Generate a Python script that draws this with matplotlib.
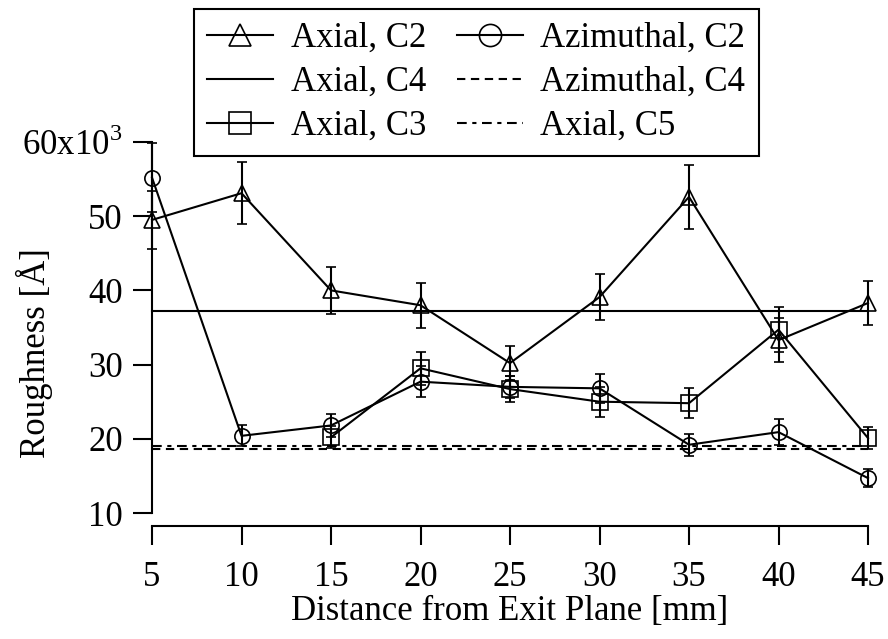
import matplotlib
matplotlib.use('Agg')
import matplotlib.pyplot as plt
from matplotlib.lines import Line2D

plt.rcParams['font.family'] = ['Liberation Serif', 'DejaVu Serif']
plt.rcParams['mathtext.fontset'] = 'custom'
plt.rcParams['mathtext.rm'] = 'Liberation Serif'
plt.rcParams['lines.scale_dashes'] = False

# ---- data ----
distance = [5, 10, 15, 20, 25, 30, 35, 40, 45]
axial_c2 = [49.5, 53.1, 40.0, 38.0, 30.2, 39.1, 52.6, 33.3, 38.3]
axial_c2_err = [3.9, 4.2, 3.2, 3.0, 2.3, 3.1, 4.3, 3.0, 3.0]
azim_c2 = [55.2, 20.4, 21.8, 27.7, 27.0, 26.8, 19.2, 20.9, 14.7]
azim_c2_err = [4.7, 1.4, 1.6, 2.1, 1.5, 2.0, 1.5, 1.8, 1.2]
distance_c3 = [15, 20, 25, 30, 35, 40, 45]
axial_c3 = [20.2, 29.5, 26.7, 25.0, 24.8, 34.7, 20.1]
axial_c3_err = [1.5, 2.2, 1.8, 2.0, 2.0, 3.0, 1.5]
ref_x = [5, 45]
axial_c4 = [37.2, 37.2]
azim_c4 = [18.6, 18.6]
axial_c5 = [19.0, 19.0]

x_ticks = [5, 10, 15, 20, 25, 30, 35, 40, 45]
y_ticks = [10, 20, 30, 40, 50, 60]
y_tick_labels = ['10', '20', '30', '40', '50', '60x10$^{3}$']

FS = 25
LW = 1.5
MS = 11

fig = plt.figure(figsize=(8.88, 6.39), dpi=100)
ax = fig.add_axes([152/888, 1-513/639, 716/888, 371/639])

def eb(x, y, e, marker):
    c = ax.errorbar(x, y, yerr=e, fmt='-', color='k', marker=marker, ms=MS,
                    mfc='none', mec='k', mew=1.2, lw=LW, elinewidth=LW,
                    capsize=3.8, capthick=LW)
    for art in c.get_children():
        art.set_clip_on(False)

eb(distance, axial_c2, axial_c2_err, '^')
eb(distance, azim_c2, azim_c2_err, 'o')
eb(distance_c3, axial_c3, axial_c3_err, 's')
ax.plot(ref_x, axial_c4, color='k', lw=LW, clip_on=False)
ax.plot(ref_x, azim_c4, color='k', lw=LW, ls=(0, (6, 4)), clip_on=False)
ax.plot(ref_x, axial_c5, color='k', lw=LW, ls=(0, (7, 4, 3, 4)), clip_on=False)

ax.set_xlim(5, 45)
ax.set_ylim(10, 60)
ax.set_xticks(x_ticks)
ax.set_yticks(y_ticks)
ax.set_yticklabels(y_tick_labels)
for s in ['top', 'right']:
    ax.spines[s].set_visible(False)
for s in ['left', 'bottom']:
    ax.spines[s].set_linewidth(LW)
ax.spines['bottom'].set_position(('outward', 9.5))
ax.tick_params(direction='out', length=14, width=LW, labelsize=FS)
ax.tick_params(axis='x', pad=11)
ax.tick_params(axis='y', pad=7)
ax.patch.set_visible(False)

ax.set_ylabel('Roughness [Å]', fontsize=FS)
ax.yaxis.set_label_coords(-0.138, 0.43)
ax.set_xlabel('Distance from Exit Plane [mm]', fontsize=FS)
ax.xaxis.set_label_coords(0.5, -0.222)

handles = [
    Line2D([], [], color='k', lw=LW, marker='^', ms=MS, mfc='none', mew=1.2),
    Line2D([], [], color='k', lw=LW),
    Line2D([], [], color='k', lw=LW, marker='s', ms=MS, mfc='none', mew=1.2),
    Line2D([], [], color='k', lw=LW, marker='o', ms=MS, mfc='none', mew=1.2),
    Line2D([], [], color='k', lw=LW, ls=(0, (6, 4))),
    Line2D([], [], color='k', lw=LW, ls=(0, (7, 4, 3, 4))),
]
labels = ['Axial, C2', 'Axial, C4', 'Axial, C3',
          'Azimuthal, C2', 'Azimuthal, C4', 'Axial, C5']
leg = fig.legend(handles, labels, ncol=2, loc='upper left',
                 bbox_to_anchor=(194/888, 1-9/639), bbox_transform=fig.transFigure,
                 borderaxespad=0, fancybox=False, edgecolor='k', framealpha=1,
                 fontsize=FS, handlelength=1.9, handletextpad=0.5,
                 columnspacing=0.9, labelspacing=0.31, borderpad=0.38,
                 markerscale=1.45)
leg.get_frame().set_linewidth(LW)

fig.savefig('out.png', dpi=100)
